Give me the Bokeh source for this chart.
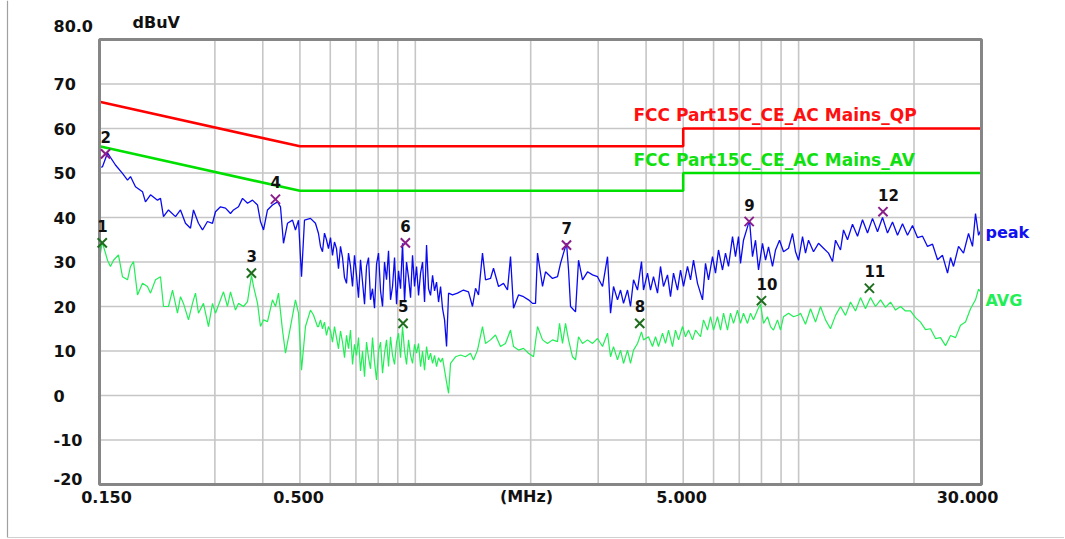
from math import log10
from bokeh.plotting import figure
from bokeh.models import Label, Range1d, ColumnDataSource
from bokeh.core.properties import value
from bokeh.embed import file_html
from bokeh.resources import INLINE

# ---------------- data ----------------
limit_freq = [0.15, 0.5, 5.0, 5.0, 30.0]
qp_limit = [66.0, 56.0, 56.0, 60.0, 60.0]
av_limit = [56.0, 46.0, 46.0, 50.0, 50.0]

peak_freq = [
    0.150, 0.1527, 0.1574, 0.1651, 0.1722, 0.1775, 0.1807, 0.1862, 0.1942, 0.1977,
    0.2038, 0.2125, 0.2164, 0.2203, 0.2270, 0.2368, 0.2440, 0.2514, 0.2591, 0.2638,
    0.2718, 0.2785, 0.2869, 0.2957, 0.3011, 0.3103, 0.3198, 0.3295, 0.3355, 0.3457,
    0.3542, 0.3650, 0.3761, 0.3876, 0.3945, 0.4018, 0.4115, 0.4240, 0.4370, 0.4449,
    0.4530, 0.4640, 0.4782, 0.4868, 0.4958, 0.5048, 0.5139, 0.5327, 0.5489,
    0.5590, 0.5658, 0.5726, 0.5795, 0.5865, 0.5936, 0.6008, 0.6081, 0.6154, 0.6229,
    0.6304, 0.6380, 0.6458, 0.6536, 0.6615, 0.6694, 0.6775, 0.6858, 0.6940, 0.7024,
    0.7109, 0.7195, 0.7283, 0.7371, 0.7460, 0.7550, 0.7641, 0.7733, 0.7827, 0.7922,
    0.8018, 0.8115, 0.8213, 0.8312, 0.8413, 0.8514, 0.8617, 0.8721, 0.8827, 0.8934,
    0.9042, 0.9151, 0.9262, 0.9374, 0.9487, 0.9602, 0.9718, 0.9835, 0.9954, 1.0075,
    1.0197, 1.0320, 1.0445, 1.0571, 1.0699, 1.0828, 1.0959, 1.1092, 1.1226, 1.1361,
    1.1499, 1.1638, 1.1779, 1.1921, 1.2065, 1.2211,
    1.2505, 1.2885, 1.3355, 1.3765, 1.4099, 1.4358, 1.4618, 1.4972, 1.5245, 1.5711,
    1.5996, 1.6485, 1.6986, 1.7399, 1.7717, 1.8039, 1.8588, 1.9157, 1.9739, 2.0222,
    2.0588, 2.0837, 2.1474, 2.1864, 2.2800, 2.3498, 2.3925, 2.4359, 2.4806, 2.5106,
    2.5407, 2.6181, 2.6658, 2.7305, 2.8140, 2.8997, 2.9879, 3.0792, 3.1728, 3.2310,
    3.2892, 3.3690, 3.4308, 3.4931, 3.5777, 3.6425, 3.7094, 3.7992, 3.8913, 3.9389,
    4.0344, 4.1076, 4.1820, 4.2842, 4.3617, 4.4409, 4.5495, 4.6320, 4.7163, 4.8317,
    4.9193, 5.0085, 5.1297, 5.2241, 5.3187, 5.4476, 5.6145, 5.7161, 5.8197, 5.9618,
    6.0699, 6.1799, 6.3308, 6.4455, 6.5628, 6.7230, 6.8448, 6.9689, 7.0530, 7.1808,
    7.3563, 7.4451, 7.5801, 7.7193, 7.8593, 8.0498, 8.1977, 8.3462, 8.5484, 8.7054,
    8.9165, 9.1325, 9.4122, 9.6404, 9.8151, 9.9953, 10.238, 10.423, 10.612, 10.937,
    11.269, 11.614, 11.968, 12.258, 12.483, 12.862, 13.095, 13.415, 13.823, 14.246,
    14.679, 15.128, 15.588, 16.065, 16.554, 17.057, 17.579, 18.114, 18.668, 19.235,
    19.824, 20.426, 21.051, 21.692, 22.356, 23.040, 23.736, 24.464, 24.908, 25.356,
    26.133, 26.928, 27.752, 28.425, 28.940, 29.471, 30.0,
]
peak_level = [
    51.3, 51.4, 54.5, 51.8, 49.9, 48.4, 49.2, 46.9, 45.8, 43.5,
    45.1, 43.9, 44.3, 40.2, 41.7, 40.2, 41.7, 38.7, 37.6, 41.7,
    38.7, 37.2, 39.1, 38.7, 41.3, 42.4, 42.1, 40.9, 41.7, 42.4,
    44.3, 43.2, 43.9, 42.8, 39.1, 37.2, 41.7, 42.8, 43.5, 42.4,
    34.2, 38.7, 39.4, 37.2, 39.4, 26.7, 39.4, 39.8, 38.7,
    36.4, 33.5, 32.3, 36.5, 35.0, 33.0, 35.5, 31.5, 34.5, 33.0,
    28.5, 33.5, 31.0, 26.5, 25.2, 32.0, 29.0, 24.5, 31.5, 27.0,
    22.0, 30.5, 25.5, 20.5, 29.0, 31.0, 21.5, 24.0, 19.6, 29.5,
    32.0, 23.5, 20.0, 30.0, 26.0, 32.5, 21.5, 24.5, 31.0, 20.5,
    28.0, 24.0, 34.2, 21.0, 30.0, 26.5, 22.0, 31.5, 24.5, 29.0,
    22.5, 27.5, 30.0, 21.0, 33.8, 24.0, 22.5, 27.0, 23.5, 25.5,
    21.0, 24.5, 19.5, 17.0, 11.0, 23.0,
    22.6, 23.0, 23.7, 23.3, 20.0, 24.1, 22.6, 32.0, 26.0, 26.3,
    28.6, 24.5, 25.2, 23.7, 31.2, 19.6, 22.6, 22.2, 21.5, 20.7,
    20.7, 32.0, 24.5, 27.8, 26.3, 26.7, 29.7, 32.0, 34.2, 28.2,
    20.0, 18.8, 30.4, 26.0, 27.8, 27.1, 26.7, 24.5, 31.2, 18.5,
    24.5, 21.5, 23.7, 20.7, 23.7, 20.0, 26.0, 23.7, 30.1, 23.7,
    27.5, 23.7, 26.7, 23.0, 29.0, 24.5, 27.1, 22.2, 27.5, 23.7,
    28.2, 24.5, 29.0, 26.0, 30.4, 25.2, 21.5, 29.7, 26.0, 31.2,
    27.5, 32.7, 28.2, 32.0, 29.0, 35.7, 31.2, 35.7, 29.7, 34.9,
    37.9, 39.4, 31.2, 34.9, 28.2, 34.2, 30.4, 33.4, 29.0, 32.7,
    34.9, 32.3, 33.1, 36.4, 32.3, 30.4, 35.7, 32.0, 34.9, 32.3,
    34.2, 33.1, 32.0, 30.1, 34.9, 32.7, 37.2, 35.0, 38.5, 35.8,
    39.5, 36.5, 39.8, 36.8, 40.0, 36.5, 39.0, 36.0, 38.6, 36.0,
    38.2, 35.5, 35.8, 33.5, 34.0, 30.5, 31.5, 27.5, 31.0, 29.0,
    33.5, 32.0, 36.4, 33.5, 40.9, 36.0, 37.5,
]

avg_freq = [
    0.150, 0.1525, 0.1574, 0.1602, 0.1632, 0.1681, 0.1722, 0.1775, 0.1807, 0.1840,
    0.1885, 0.1942, 0.2001, 0.2038, 0.2100, 0.2164, 0.2203, 0.2270, 0.2326, 0.2396,
    0.2440, 0.2484, 0.2560, 0.2622, 0.2670, 0.2718, 0.2801, 0.2887, 0.2957, 0.3011,
    0.3103, 0.3159, 0.3236, 0.3295, 0.3395, 0.3457, 0.3563, 0.3650, 0.3738, 0.3784,
    0.3876, 0.3945, 0.4018, 0.4115, 0.4240, 0.4318, 0.4396, 0.4503, 0.4585, 0.4725,
    0.4868, 0.4958, 0.5048, 0.5170, 0.5327, 0.5424, 0.5556,
    0.5590, 0.5658, 0.5726, 0.5795, 0.5865, 0.5936, 0.6008, 0.6081, 0.6154, 0.6229,
    0.6304, 0.6380, 0.6458, 0.6536, 0.6615, 0.6694, 0.6775, 0.6858, 0.6940, 0.7024,
    0.7109, 0.7195, 0.7283, 0.7371, 0.7460, 0.7550, 0.7641, 0.7733, 0.7827, 0.7922,
    0.8018, 0.8115, 0.8213, 0.8312, 0.8413, 0.8514, 0.8617, 0.8721, 0.8827, 0.8934,
    0.9042, 0.9151, 0.9262, 0.9374, 0.9487, 0.9602, 0.9718, 0.9835, 0.9954, 1.0075,
    1.0197, 1.0320, 1.0445, 1.0571, 1.0699, 1.0828, 1.0959, 1.1092, 1.1226, 1.1361,
    1.1499, 1.1638, 1.1779, 1.1921, 1.2065, 1.2211,
    1.2357, 1.2732, 1.3119, 1.3520, 1.3931, 1.4185,
    1.4531, 1.4972, 1.5245, 1.5711, 1.6188, 1.6682, 1.7188, 1.7717, 1.8039, 1.8588,
    1.9157, 1.9739, 2.0343, 2.0837, 2.1474, 2.2128, 2.2800, 2.3498, 2.3780, 2.4212,
    2.4656, 2.5106, 2.5710, 2.6181, 2.6658, 2.7305, 2.8140, 2.8997, 2.9879, 3.0792,
    3.1728, 3.2310, 3.2892, 3.3690, 3.4308, 3.4931, 3.5777, 3.6425, 3.7094, 3.7992,
    3.8913, 3.9389, 4.0586, 4.1570, 4.2333, 4.3101, 4.4147, 4.4957, 4.5771, 4.6881,
    4.7732, 4.8608, 4.9784, 5.0687, 5.1617, 5.2869, 5.3829, 5.5475, 5.6480, 5.7849,
    5.8911, 5.9979, 6.1433, 6.2547, 6.3693, 6.5237, 6.6420, 6.7638, 6.9273, 7.0530,
    7.1808, 7.3563, 7.4898, 7.6257, 7.8120, 7.9536, 8.0978, 8.2958, 8.4462, 8.5992,
    8.8097, 8.9693, 9.1325, 9.4122, 9.6983, 9.9953, 10.116, 10.423, 10.742, 11.069,
    11.405, 11.754, 12.111, 12.483, 12.862, 13.255, 13.658, 14.075, 14.504, 14.945,
    15.402, 15.870, 16.356, 16.853, 17.367, 17.897, 18.443, 19.002, 19.581, 20.183,
    20.798, 21.434, 22.085, 22.761, 23.454, 24.171, 24.908, 25.668, 26.448, 27.252,
    28.086, 28.940, 29.471, 30.0,
]
avg_level = [
    30.5, 34.5, 30.4, 29.0, 30.4, 31.6, 26.7, 26.0, 29.0, 30.1,
    22.6, 25.2, 24.5, 23.0, 26.0, 26.7, 20.0, 20.0, 23.7, 18.5,
    22.2, 20.7, 17.0, 20.7, 23.0, 18.5, 20.7, 15.5, 20.7, 18.5,
    21.5, 23.3, 20.0, 23.3, 19.2, 20.7, 20.0, 21.1, 27.0, 24.5,
    20.7, 15.5, 17.0, 16.6, 21.5, 20.0, 23.0, 14.7, 9.5, 15.5,
    21.5, 18.5, 5.7, 15.5, 19.2, 18.1, 15.5,
    15.5, 17.0, 15.0, 16.5, 13.5, 15.5, 14.5, 12.0, 15.5, 13.0,
    10.5, 14.5, 12.0, 8.5, 13.5, 10.5, 14.7, 7.0, 11.5, 9.0,
    13.0, 5.5, 10.0, 4.2, 12.0, 8.5, 6.0, 13.0, 7.5, 3.5,
    10.0, 12.0, 5.0, 9.5, 12.5, 6.5, 13.2, 9.0, 7.0, 12.0,
    14.0, 8.5, 15.5, 10.0, 7.0, 12.5, 9.0, 7.2, 11.5, 9.5,
    11.7, 6.5, 10.0, 5.7, 11.0, 8.0, 9.5, 7.2, 9.0, 6.5,
    8.5, 7.5, 8.4, 5.7, 3.0, 0.5,
    7.2, 8.7, 9.1, 8.7, 9.5, 8.0,
    10.2, 15.5, 11.7, 12.5, 13.6, 11.0, 11.7, 14.7, 11.0, 10.2,
    10.6, 9.5, 8.7, 15.5, 12.5, 11.7, 12.5, 12.1, 16.2, 11.7,
    16.2, 12.5, 8.7, 8.0, 13.2, 11.7, 12.5, 11.7, 12.8, 11.0,
    14.0, 8.7, 11.0, 8.0, 10.2, 7.2, 10.2, 7.2, 10.2, 11.7,
    14.3, 12.5, 13.2, 11.0, 13.2, 11.0, 14.0, 11.7, 14.7, 11.0,
    14.7, 12.5, 15.5, 13.2, 14.7, 12.5, 14.7, 13.2, 17.0, 14.7,
    17.7, 14.7, 17.7, 14.7, 18.5, 14.7, 18.5, 16.2, 19.2, 16.2,
    18.5, 16.2, 18.5, 17.0, 19.2, 20.5, 16.2, 17.7, 15.5, 14.7,
    17.0, 14.7, 17.7, 18.5, 17.7, 18.1, 18.5, 16.0, 19.5, 16.5,
    20.0, 17.0, 15.0, 18.0, 20.0, 18.0, 21.0, 19.0, 22.0, 19.5,
    22.0, 20.0, 21.5, 19.8, 21.0, 19.2, 20.0, 19.0, 19.0, 17.5,
    16.5, 14.8, 15.0, 12.8, 13.0, 11.2, 13.5, 13.0, 15.8, 16.5,
    19.5, 21.5, 23.9, 23.0,
]

marker_no = ["1", "2", "3", "4", "5", "6", "7", "8", "9", "10", "11", "12"]
marker_freq = [0.1525, 0.1555, 0.3736, 0.4316, 0.929, 0.942, 2.48, 3.85, 7.43, 8.00, 15.3, 16.6]
marker_level = [34.3, 54.3, 27.5, 44.1, 16.2, 34.3, 33.8, 16.2, 39.1, 21.3, 24.1, 41.3]
marker_kind = ["AV", "QP", "AV", "QP", "AV", "QP", "QP", "AV", "QP", "AV", "AV", "QP"]

y_tick_values = [70, 60, 50, 40, 30, 20, 10, 0, -10]
x_grid_values = [0.3, 0.4, 0.5, 0.6, 0.7, 0.8, 0.9, 1, 2, 3, 4, 5, 6, 7, 8, 9, 10, 20]
y_grid_values = [-10, 0, 10, 20, 30, 40, 50, 60, 70]

# ---------------- layout (pixels of the picture) ----------------
W, H = 1064, 538
BOX_L, BOX_R, BOX_T, BOX_B = 99, 981, 39, 484
F0, F1, V0, V1 = 0.15, 30.0, -20.0, 80.0
DEC_PX = (BOX_R - BOX_L) / log10(F1 / F0)
DB_PX = (BOX_B - BOX_T) / (V1 - V0)


def fx(px):
    return F0 * 10 ** ((px - BOX_L) / DEC_PX)


def fy(py):
    return V1 - (py - BOX_T) / DB_PX


FONT = "DejaVu Sans"
p = figure(
    width=W, height=H,
    x_axis_type="log", x_axis_location=None, y_axis_location=None,
    x_range=Range1d(fx(0), fx(W)), y_range=Range1d(fy(H), fy(0)),
    output_backend="svg", toolbar_location=None,
    min_border=0, min_border_left=0, min_border_right=0,
    min_border_top=0, min_border_bottom=0,
    background_fill_color="white", border_fill_color="white",
)
p.outline_line_color = None
p.grid.visible = False

# outer window edge (left / bottom)
p.segment(x0=[fx(7)], y0=[fy(0)], x1=[fx(7)], y1=[fy(537)], line_color="#a0a0a0", line_width=1.2)
p.segment(x0=[fx(7)], y0=[fy(537)], x1=[fx(W)], y1=[fy(537)], line_color="#d0d0d0", line_width=1.2)

# grid inside the plot box
nx, ny = len(x_grid_values), len(y_grid_values)
p.segment(x0=x_grid_values, y0=[V0] * nx, x1=x_grid_values, y1=[V1] * nx,
          line_color="#c6c6c6", line_width=1.6)
p.segment(x0=[F0] * ny, y0=y_grid_values, x1=[F1] * ny, y1=y_grid_values,
          line_color="#c6c6c6", line_width=1.6)

# limits
p.line(limit_freq, qp_limit, line_color="#ff0000", line_width=2.6)
p.line(limit_freq, av_limit, line_color="#00e000", line_width=2.6)

# traces
p.line(avg_freq, avg_level, line_color="#22ee55", line_width=1.2)
p.line(peak_freq, peak_level, line_color="#0a0af0", line_width=1.3)

# plot box
p.quad(left=[F0], right=[F1], bottom=[V0], top=[V1], fill_color=None,
       line_color="#868686", line_width=3)

# markers
qp_idx = [i for i, k in enumerate(marker_kind) if k == "QP"]
av_idx = [i for i, k in enumerate(marker_kind) if k == "AV"]
p.scatter([marker_freq[i] for i in qp_idx], [marker_level[i] for i in qp_idx],
          marker="x", size=13, line_color="#8a1e8a", line_width=2)
p.scatter([marker_freq[i] for i in av_idx], [marker_level[i] for i in av_idx],
          marker="x", size=13, line_color="#1f6e1f", line_width=2)

lab_src = ColumnDataSource(dict(
    x=marker_freq, y=[v + 17 / DB_PX for v in marker_level], t=marker_no))
p.text(x="x", y="y", text="t", source=lab_src, text_font=value(FONT),
       text_font_style="bold", text_font_size="15px", text_color="#111111",
       text_align="left", text_baseline="middle", x_offset=-5)


def lab(px, py, text, color="#111111", align="left", size="16px"):
    p.add_layout(Label(x=fx(px), y=fy(py), text=text, text_font=FONT,
                       text_font_style="bold", text_font_size=size,
                       text_color=color, text_align=align, text_baseline="middle"))


# y tick labels (at grid heights)
for v in y_tick_values:
    p.add_layout(Label(x=fx(53), y=v, text=str(v), text_font=FONT, text_font_style="bold",
                       text_font_size="16px", text_color="#111111",
                       text_align="left", text_baseline="middle"))
lab(53, 25.5, "80.0")
lab(53, 478, "-20")
lab(132, 22, "dBuV")

# x tick labels
lab(106, 496, "0.150", align="center")
lab(298, 496, "0.500", align="center")
lab(526, 496, "(MHz)", align="center")
lab(681, 496, "5.000", align="center")
lab(967, 496, "30.000", align="center")

# limit / trace names
lab(633, 114, "FCC Part15C_CE_AC Mains_QP", color="#ff1010", size="17px")
lab(633, 159, "FCC Part15C_CE_AC Mains_AV", color="#10e010", size="17px")
lab(985, 232, "peak", color="#1010f0")
lab(985, 300, "AVG", color="#22ee55")

open("out.html", "w").write(file_html(p, INLINE))
